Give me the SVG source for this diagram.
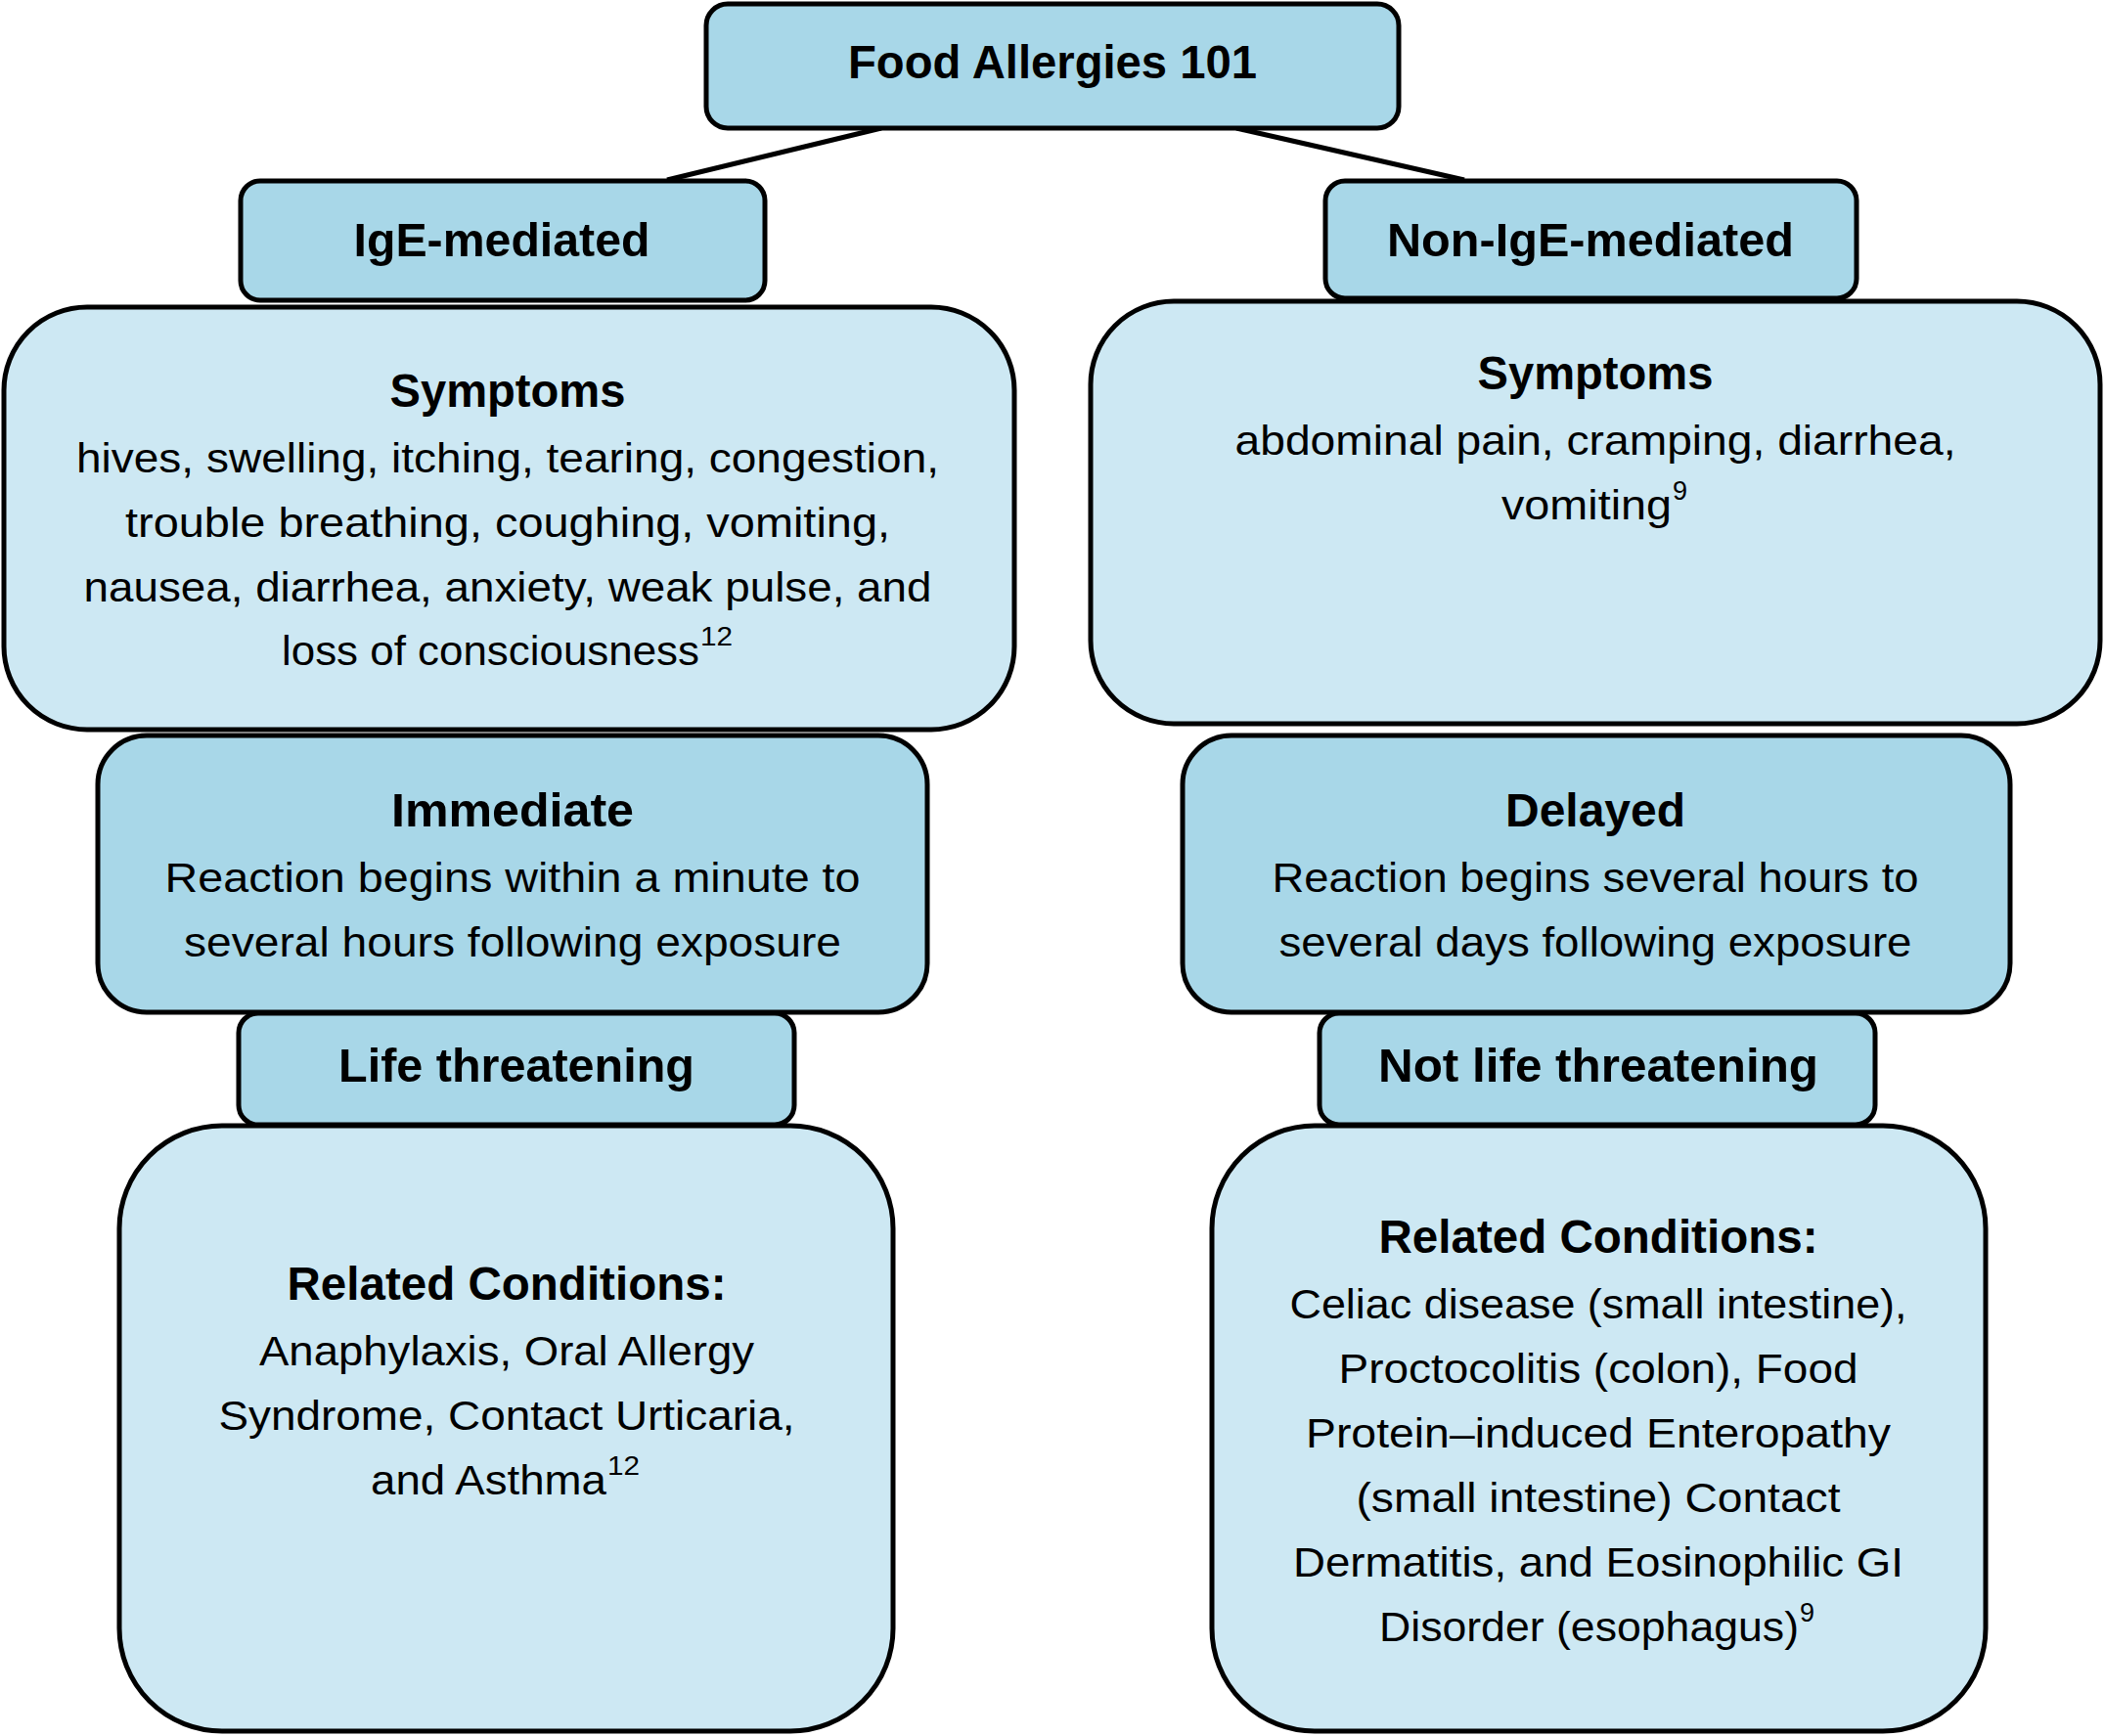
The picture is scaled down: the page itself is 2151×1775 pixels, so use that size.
<svg xmlns="http://www.w3.org/2000/svg" width="2151" height="1775" viewBox="0 0 2151 1775">
<style>
.dark{fill:#A8D7E8;stroke:#000;stroke-width:5}
.light{fill:#CDE8F3;stroke:#000;stroke-width:5}
.h{font-family:"Liberation Sans",Arial,sans-serif;font-weight:bold;font-size:48px;fill:#000;text-anchor:middle}
.t{font-family:"Liberation Sans",Arial,sans-serif;font-size:43px;fill:#000;text-anchor:middle}
.ts{font-family:"Liberation Sans",Arial,sans-serif;font-size:43px;fill:#000;text-anchor:start}
.sup{font-family:"Liberation Sans",Arial,sans-serif;font-size:27px;fill:#000;text-anchor:start}
.conn{stroke:#000;stroke-width:5;fill:none}
</style>
<rect width="2151" height="1775" fill="#fff"/>
<g id="connectors">
<line class="conn" x1="901" y1="131" x2="682" y2="184"/>
<line class="conn" x1="1264" y1="131" x2="1497" y2="184"/>
</g>
<g id="title">
<rect class="dark" x="722" y="4" width="708" height="127" rx="22"/>
<text class="h" x="1076" y="80" textLength="418" lengthAdjust="spacingAndGlyphs">Food Allergies 101</text>
</g>
<g id="ige">
<rect class="dark" x="246" y="185" width="536" height="122" rx="20"/>
<text class="h" x="513" y="262" textLength="303" lengthAdjust="spacingAndGlyphs">IgE-mediated</text>
</g>
<g id="nonige">
<rect class="dark" x="1355" y="185" width="543" height="120" rx="20"/>
<text class="h" x="1626" y="262" textLength="416" lengthAdjust="spacingAndGlyphs">Non-IgE-mediated</text>
</g>
<g id="symptoms-ige">
<rect class="light" x="4" y="314" width="1033" height="432" rx="85"/>
<text class="h" x="519" y="416" textLength="241" lengthAdjust="spacingAndGlyphs">Symptoms</text>
<text class="t" x="519" y="483" textLength="882" lengthAdjust="spacingAndGlyphs">hives, swelling, itching, tearing, congestion,</text>
<text class="t" x="519" y="549" textLength="782" lengthAdjust="spacingAndGlyphs">trouble breathing, coughing, vomiting,</text>
<text class="t" x="519" y="615" textLength="867" lengthAdjust="spacingAndGlyphs">nausea, diarrhea, anxiety, weak pulse, and</text>
<text class="ts" x="288" y="680" textLength="427" lengthAdjust="spacingAndGlyphs">loss of consciousness</text>
<text class="sup" x="716" y="660" textLength="33" lengthAdjust="spacingAndGlyphs">12</text>
</g>
<g id="symptoms-nonige">
<rect class="light" x="1115" y="308" width="1032" height="432" rx="85"/>
<text class="h" x="1631" y="398" textLength="241" lengthAdjust="spacingAndGlyphs">Symptoms</text>
<text class="t" x="1631" y="465" textLength="737" lengthAdjust="spacingAndGlyphs">abdominal pain, cramping, diarrhea,</text>
<text class="ts" x="1535" y="531" textLength="174" lengthAdjust="spacingAndGlyphs">vomiting</text>
<text class="sup" x="1710" y="511">9</text>
</g>
<g id="immediate">
<rect class="dark" x="100" y="752" width="848" height="283" rx="50"/>
<text class="h" x="524" y="845" textLength="248" lengthAdjust="spacingAndGlyphs">Immediate</text>
<text class="t" x="524" y="912" textLength="711" lengthAdjust="spacingAndGlyphs">Reaction begins within a minute to</text>
<text class="t" x="524" y="978" textLength="672" lengthAdjust="spacingAndGlyphs">several hours following exposure</text>
</g>
<g id="delayed">
<rect class="dark" x="1209" y="752" width="846" height="283" rx="50"/>
<text class="h" x="1631" y="845" textLength="184" lengthAdjust="spacingAndGlyphs">Delayed</text>
<text class="t" x="1631" y="912" textLength="661" lengthAdjust="spacingAndGlyphs">Reaction begins several hours to</text>
<text class="t" x="1631" y="978" textLength="647" lengthAdjust="spacingAndGlyphs">several days following exposure</text>
</g>
<g id="life">
<rect class="dark" x="244" y="1036" width="568" height="114" rx="20"/>
<text class="h" x="528" y="1106" textLength="364" lengthAdjust="spacingAndGlyphs">Life threatening</text>
</g>
<g id="notlife">
<rect class="dark" x="1349" y="1036" width="568" height="114" rx="20"/>
<text class="h" x="1634" y="1106" textLength="450" lengthAdjust="spacingAndGlyphs">Not life threatening</text>
</g>
<g id="related-ige">
<rect class="light" x="122" y="1151" width="791" height="619" rx="105"/>
<text class="h" x="518" y="1329" textLength="449" lengthAdjust="spacingAndGlyphs">Related Conditions:</text>
<text class="t" x="518" y="1396" textLength="506" lengthAdjust="spacingAndGlyphs">Anaphylaxis, Oral Allergy</text>
<text class="t" x="518" y="1462" textLength="589" lengthAdjust="spacingAndGlyphs">Syndrome, Contact Urticaria,</text>
<text class="ts" x="379" y="1528" textLength="241" lengthAdjust="spacingAndGlyphs">and Asthma</text>
<text class="sup" x="621" y="1508" textLength="33" lengthAdjust="spacingAndGlyphs">12</text>
</g>
<g id="related-nonige">
<rect class="light" x="1239" y="1151" width="791" height="619" rx="105"/>
<text class="h" x="1634" y="1281" textLength="449" lengthAdjust="spacingAndGlyphs">Related Conditions:</text>
<text class="t" x="1634" y="1348" textLength="631" lengthAdjust="spacingAndGlyphs">Celiac disease (small intestine),</text>
<text class="t" x="1634" y="1414" textLength="531" lengthAdjust="spacingAndGlyphs">Proctocolitis (colon), Food</text>
<text class="t" x="1634" y="1480" textLength="598" lengthAdjust="spacingAndGlyphs">Protein–induced Enteropathy</text>
<text class="t" x="1634" y="1546" textLength="495" lengthAdjust="spacingAndGlyphs">(small intestine) Contact</text>
<text class="t" x="1634" y="1612" textLength="624" lengthAdjust="spacingAndGlyphs">Dermatitis, and Eosinophilic GI</text>
<text class="ts" x="1410" y="1678" textLength="429" lengthAdjust="spacingAndGlyphs">Disorder (esophagus)</text>
<text class="sup" x="1840" y="1658">9</text>
</g>
</svg>
